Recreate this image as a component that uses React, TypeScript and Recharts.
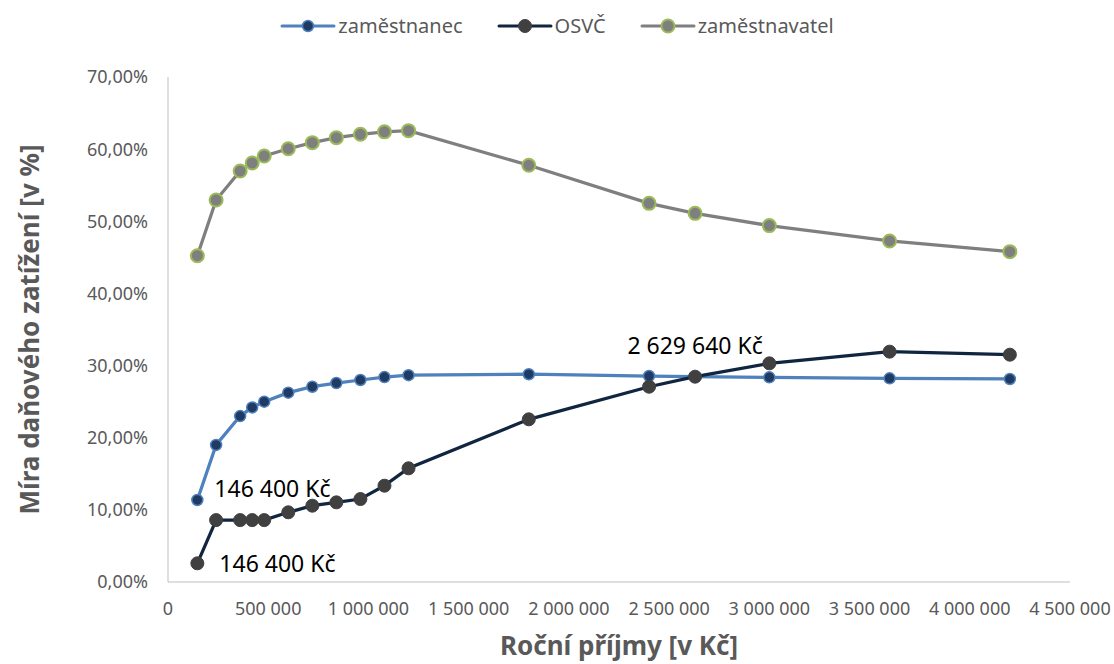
import { LineChart, Line, XAxis, YAxis, Legend } from "recharts";

// Annual income levels (Kč) at which the tax burden was computed
const incomes = [
  146400, 240000, 360000, 420000, 480000, 600000, 720000, 840000, 960000,
  1080000, 1200000, 1800000, 2400000, 2629640, 3000000, 3600000, 4200000,
];

// Tax burden in % for each income level
const zamestnanec = [
  11.37, 19.0, 23.0, 24.2, 25.0, 26.25, 27.07, 27.58, 28.0, 28.4, 28.67, 28.8,
  28.55, 28.46, 28.37, 28.23, 28.14,
];
const osvc = [
  2.59, 8.58, 8.58, 8.58, 8.58, 9.66, 10.58, 11.04, 11.5, 13.35, 15.76, 22.55,
  27.07, 28.46, 30.31, 31.93, 31.51,
];
const zamestnavatel = [
  45.23, 52.95, 56.97, 58.08, 59.05, 60.06, 60.9, 61.59, 62.06, 62.4, 62.56,
  57.76, 52.49, 51.1, 49.4, 47.27, 45.79,
];

const xTicks = [0, 500000, 1000000, 1500000, 2000000, 2500000, 3000000, 3500000, 4000000, 4500000];
const yTicks = [0, 10, 20, 30, 40, 50, 60, 70];

const data = incomes.map((income, i) => ({
  income,
  zamestnanec: zamestnanec[i],
  osvc: osvc[i],
  zamestnavatel: zamestnavatel[i],
}));

const FONT = "'Noto Sans', 'Open Sans', sans-serif";
const TEXT_GRAY = "#595959";
const AXIS_GRAY = "#BFBFBF";

const series = [
  { key: "zamestnanec", name: "zaměstnanec", line: "#4F81BD", fill: "#1F3A63", ring: "#4F81BD", r: 5.5, ringWidth: 1.5 },
  { key: "osvc", name: "OSVČ", line: "#10253F", fill: "#404040", ring: "#404040", r: 6.5, ringWidth: 1 },
  { key: "zamestnavatel", name: "zaměstnavatel", line: "#7F7F7F", fill: "#7F7F7F", ring: "#9BBB59", r: 6.5, ringWidth: 2 },
];

const fmtThousands = (v: number) => String(v).replace(/\B(?=(\d{3})+(?!\d))/g, " ");
const fmtPercent = (v: number) => v.toFixed(2).replace(".", ",") + "%";

// data label showing the income of one chosen point
function incomeLabel(target: number, dx: number, dy: number, anchor: "start" | "middle") {
  return (props: any) => {
    const { x, y, index } = props;
    if (incomes[index] !== target) return <g />;
    return (
      <text
        x={x + dx}
        y={y + dy}
        textAnchor={anchor}
        dominantBaseline="central"
        fontFamily={FONT}
        fontSize={23}
        fill="#000"
      >
        {fmtThousands(incomes[index])} Kč
      </text>
    );
  };
}

const labels: Record<string, any> = {
  zamestnanec: incomeLabel(146400, 17, -12, "start"),
  osvc: incomeLabel(146400, 22, 0, "start"),
  zamestnavatel: false,
};
const osvcTopLabel = incomeLabel(2629640, 0, -32, "middle");

function LegendContent() {
  return (
    <div style={{ display: "flex", justifyContent: "center", gap: 34, fontFamily: FONT, fontSize: 20, color: TEXT_GRAY }}>
      {series.map((s) => (
        <div key={s.key} style={{ display: "flex", alignItems: "center" }}>
          <svg width={56} height={20}>
            <line x1={2} y1={10} x2={54} y2={10} stroke={s.line} strokeWidth={3} strokeLinecap="round" />
            <circle cx={28} cy={10} r={s.r} fill={s.fill} stroke={s.ring} strokeWidth={s.ringWidth} />
          </svg>
          <span style={{ marginLeft: 2 }}>{s.name}</span>
        </div>
      ))}
    </div>
  );
}

export default function App() {
  return (
    <div style={{ position: "absolute", left: 0, top: 0, background: "#fff" }}>
      <LineChart width={1114} height={664} data={data} margin={{ top: 77, right: 44, bottom: 0, left: 0 }}>
        <XAxis
          type="number"
          dataKey="income"
          domain={[0, 4500000]}
          ticks={xTicks}
          tickFormatter={fmtThousands}
          height={82}
          stroke={AXIS_GRAY}
          tickLine={false}
          tickSize={0}
          tickMargin={20}
          tick={{ fill: TEXT_GRAY, fontFamily: FONT, fontSize: 18 }}
          label={(p: any) => {
            const vb = p.viewBox;
            return (
              <text
                x={vb.x + vb.width / 2}
                y={vb.y + 63}
                textAnchor="middle"
                dominantBaseline="central"
                fontFamily={FONT}
                fontSize={26}
                fontWeight="bold"
                fill={TEXT_GRAY}
              >
                Roční příjmy [v Kč]
              </text>
            );
          }}
        />
        <YAxis
          type="number"
          domain={[0, 70]}
          ticks={yTicks}
          tickFormatter={fmtPercent}
          width={168}
          stroke={AXIS_GRAY}
          tickLine={false}
          tickSize={0}
          tickMargin={20}
          tick={{ fill: TEXT_GRAY, fontFamily: FONT, fontSize: 18 }}
          label={(p: any) => {
            const vb = p.viewBox;
            const cx = 29;
            const cy = vb.y + vb.height / 2;
            return (
              <text
                x={cx}
                y={cy}
                transform={`rotate(-90 ${cx} ${cy})`}
                textAnchor="middle"
                dominantBaseline="central"
                fontFamily={FONT}
                fontSize={26}
                fontWeight="bold"
                fill={TEXT_GRAY}
              >
                Míra daňového zatížení [v %]
              </text>
            );
          }}
        />
        <Legend
          layout="horizontal"
          verticalAlign="middle"
          align="center"
          content={<LegendContent />}
          wrapperStyle={{ top: 12, left: 0, width: 1114 }}
        />
        {series.map((s) => (
          <Line
            key={s.key}
            type="linear"
            dataKey={s.key}
            name={s.name}
            stroke={s.line}
            strokeWidth={3.25}
            dot={{ r: s.r, fill: s.fill, stroke: s.ring, strokeWidth: s.ringWidth }}
            activeDot={false}
            label={labels[s.key]}
            isAnimationActive={false}
          />
        ))}
        <Line
          type="linear"
          dataKey="osvc"
          stroke="none"
          dot={false}
          activeDot={false}
          legendType="none"
          label={osvcTopLabel}
          isAnimationActive={false}
        />
      </LineChart>
    </div>
  );
}
